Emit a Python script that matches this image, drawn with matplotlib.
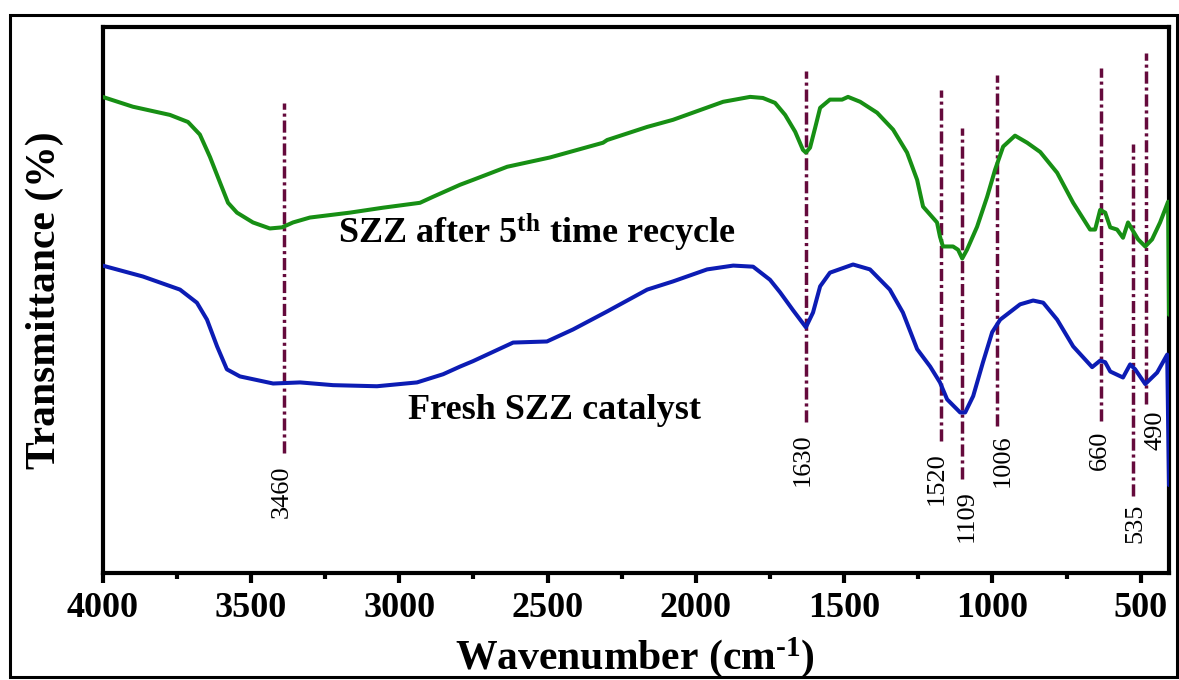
import matplotlib
matplotlib.use("Agg")
import matplotlib.pyplot as plt
from matplotlib.patches import Rectangle
from matplotlib.ticker import MultipleLocator

plt.rcParams['font.family'] = ['Liberation Serif', 'DejaVu Serif']
plt.rcParams['mathtext.fontset'] = 'custom'
plt.rcParams['mathtext.rm'] = 'Liberation Serif:bold'
plt.rcParams['mathtext.bf'] = 'Liberation Serif:bold'
plt.rcParams['mathtext.default'] = 'rm'

# FTIR spectra (wavenumber in cm^-1, transmittance in arbitrary %)
wn_recycled = [4000, 3898, 3773, 3712, 3672, 3638, 3604, 3577, 3547, 3493, 3436,
               3395, 3358, 3301, 3166, 3055, 2930, 2886, 2795, 2751, 2636, 2492,
               2313, 2299, 2164, 2077, 1908, 1817, 1774, 1733, 1699, 1665, 1639,
               1629, 1615, 1598, 1581, 1548, 1507, 1487, 1446, 1389, 1335, 1288,
               1254, 1234, 1187, 1177, 1167, 1133, 1116, 1102, 1086, 1052, 1018,
               991, 964, 924, 883, 839, 782, 728, 671, 654, 637, 620, 603, 580,
               560, 543, 529, 509, 485, 462, 435, 408, 405]
t_recycled = [87.2, 85.4, 83.9, 82.6, 80.3, 76.2, 71.5, 67.8, 66.0, 64.2, 63.1,
              63.3, 64.2, 65.1, 66.0, 66.9, 67.8, 68.9, 71.1, 72.0, 74.4, 76.1,
              78.8, 79.3, 81.7, 83.0, 86.3, 87.2, 87.0, 86.1, 83.9, 80.8, 77.5,
              77.0, 77.9, 81.5, 85.2, 86.7, 86.7, 87.2, 86.3, 84.3, 81.2, 77.0,
              72.0, 67.1, 64.2, 61.6, 59.8, 59.8, 59.2, 57.6, 59.2, 63.4, 68.9,
              73.9, 78.1, 80.1, 78.8, 77.1, 73.3, 67.8, 62.9, 62.9, 66.5, 66.0,
              63.3, 62.9, 61.4, 64.2, 62.9, 61.1, 59.8, 61.1, 64.2, 68.0, 47.3]

wn_fresh = [4000, 3864, 3739, 3682, 3648, 3614, 3581, 3537, 3425, 3334, 3223,
            3075, 2940, 2852, 2795, 2751, 2616, 2502, 2414, 2299, 2164, 2077,
            1962, 1874, 1807, 1750, 1716, 1672, 1629, 1605, 1581, 1548, 1470,
            1413, 1346, 1302, 1254, 1210, 1177, 1153, 1109, 1092, 1065, 1032,
            1001, 974, 907, 863, 829, 782, 728, 664, 637, 620, 603, 560, 536,
            519, 485, 445, 411, 405]
t_fresh = [56.3, 54.3, 51.9, 49.5, 46.4, 41.5, 37.3, 36.0, 34.7, 34.9, 34.4,
           34.2, 34.9, 36.4, 37.8, 38.8, 42.2, 42.4, 44.6, 47.9, 51.9, 53.4,
           55.6, 56.3, 56.1, 53.7, 51.4, 48.1, 45.0, 47.7, 52.5, 55.0, 56.5,
           55.6, 51.9, 47.7, 41.0, 37.8, 34.9, 31.8, 29.4, 29.4, 32.4, 38.6,
           44.1, 46.4, 49.2, 49.9, 49.5, 46.4, 41.5, 37.7, 38.9, 38.6, 36.9,
           35.8, 38.2, 37.3, 34.6, 36.7, 40.0, 16.1]

# Marked absorption bands
band_labels = ['3460', '1630', '1520', '1109', '1006', '660', '535', '490']
band_pos = [3388, 1629, 1173, 1103, 985, 634, 526, 481]
band_top = [86.1, 92.0, 88.5, 81.5, 91.2, 92.5, 78.6, 95.2]
band_bottom = [21.9, 27.6, 24.1, 17.2, 26.9, 27.8, 14.1, 30.9]
label_pos = [3395, 1639, 1187, 1086, 964, 637, 519, 452]
label_level = [14.9, 20.7, 17.2, 10.4, 20.6, 22.4, 9.1, 26.1]

x_ticks = [4000, 3500, 3000, 2500, 2000, 1500, 1000, 500]

fig = plt.figure(figsize=(11.79, 6.80), dpi=100)
ax = fig.add_axes([0.087, 0.1574, 0.9045, 0.8029])

band_color = '#650a3c'
for pos, top, bot in zip(band_pos, band_top, band_bottom):
    ax.vlines(pos, bot, top, colors=band_color, linewidth=2.5,
              linestyles=(0, (3.5, 1.1, 0.9, 1.1)), zorder=1)

ax.plot(wn_recycled, t_recycled, color='#178f14', linewidth=2.9, zorder=3,
        solid_joinstyle='round', solid_capstyle='round')
ax.plot(wn_fresh, t_fresh, color='#0c1cb4', linewidth=2.9, zorder=3,
        solid_joinstyle='round', solid_capstyle='round')

for lab, pos, lev in zip(band_labels, label_pos, label_level):
    ax.text(pos, lev, lab, rotation=90, ha='center', va='center',
            fontsize=19, color='black')

ax.text(2537, 62.3, r'SZZ after 5$^{\mathbf{th}}$ time recycle', ha='center',
        va='center', fontsize=26, fontweight='bold')
ax.text(2475, 29.8, 'Fresh SZZ catalyst', ha='center', va='center',
        fontsize=26, fontweight='bold')

ax.set_xlim(4000, 405)
ax.set_ylim(0, 100)
ax.set_xticks(x_ticks)
ax.xaxis.set_minor_locator(MultipleLocator(250))
ax.set_yticks([])
ax.tick_params(axis='x', which='major', direction='out', length=7.5, width=3,
               pad=6, labelsize=26)
ax.tick_params(axis='x', which='minor', direction='out', length=4, width=3)
for lbl in ax.get_xticklabels():
    lbl.set_fontweight('bold')
for sp in ax.spines.values():
    sp.set_linewidth(3)

ax.set_xlabel(r'Wavenumber (cm$^{\text{-1}}$)', fontsize=30,
              fontweight='bold', va='center')
ax.xaxis.set_label_coords(0.499, -0.155)
ax.set_ylabel('Transmittance (%)', fontsize=30, fontweight='bold',
              va='center')
ax.yaxis.set_label_coords(-0.054, 0.5)

fig.patches.append(Rectangle((10 / 1179, 3 / 680), 1167 / 1179, 662 / 680,
                             transform=fig.transFigure, fill=False,
                             edgecolor='black', linewidth=2.2, zorder=0))

fig.savefig('out.png', dpi=100, facecolor='white')
